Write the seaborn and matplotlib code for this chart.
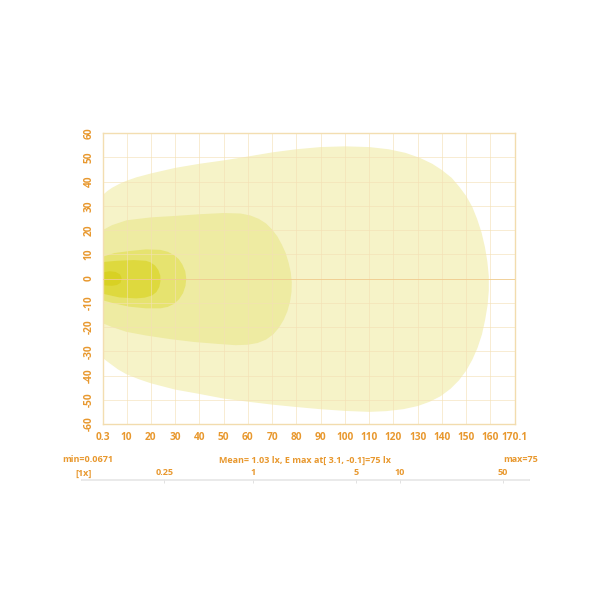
import matplotlib
matplotlib.use("Agg")
import matplotlib.pyplot as plt
import seaborn as sns

# isolux outlines (distance m, lateral m)
lux_levels = [0.25, 1, 5, 10, 50]
lux_colors = ["#f6f3c8", "#eeeba2", "#e6e36f", "#ded93e", "#d8d123"]

x_025 = [0.3, 2, 4, 7, 10, 14, 20, 30, 40, 50, 60, 70, 80, 90, 100, 110, 118, 125, 131, 136, 140,
         144, 147, 150, 152.5, 154.5, 156.3, 157.7, 158.7, 159.3, 159.3, 158.8, 157.8, 156.5, 154.7,
         152.5, 150, 147, 143.5, 139.5, 135, 130, 124, 117, 110, 100, 90, 80, 70, 60, 50, 40, 30,
         20, 15, 10, 6.5, 3.5, 1.5, 0.3]
y_025 = [34.5, 36, 37.4, 39, 40.3, 41.7, 43.3, 45.6, 47.3, 48.7, 50.3, 52, 53.3, 54.2, 54.5, 54.2,
         53.3, 51.8, 49.7, 47.3, 44.7, 41.5, 38, 34, 29.5, 24.5, 19, 13, 7, 1, -5, -11, -17, -23,
         -28.5, -33.5, -38, -42, -45.5, -48.5, -50.8, -52.6, -53.9, -54.7, -55, -54.6, -53.9,
         -53, -52, -50.8, -49.5, -47.6, -45.8, -43.2, -41.5, -39.5, -37.5, -35.3, -33.8, -32.8]

x_1 = [0.3, 4, 10, 20, 30, 40, 50, 57, 61, 64.5, 67.5, 70, 72.2, 74, 75.6, 76.8, 77.7, 78.1, 78,
       77.4, 76.3, 74.8, 72.8, 70.5, 67.5, 64, 60, 55, 48, 38, 28, 18, 10, 4, 0.3]
y_1 = [20, 22, 24, 25.2, 25.8, 26.5, 27, 26.8, 26, 24.6, 22.7, 20.2, 17.3, 14, 10.5, 6.5, 2.5, -1.5,
       -5.5, -9.5, -13.5, -17, -20.3, -23, -25.2, -26.6, -27.3, -27.5, -27, -26.2, -25, -23.5,
       -22, -20, -18.5]

x_5 = [0.3, 5, 11, 18, 24, 27, 29.5, 31.5, 33, 34.2, 34.6, 34.3, 33.3, 31.7, 29.5, 27, 24, 18, 11,
       5, 0.3]
y_5 = [9, 10.5, 11.3, 12, 11.8, 11, 9.7, 8, 5.8, 3, 0, -3, -6, -8.5, -10.5, -11.7, -12.3, -12.3,
       -11.6, -10.3, -9]

x_10 = [0.3, 6, 13, 18, 20, 21.8, 23.1, 23.9, 24, 23.5, 22.3, 20.5, 17.5, 14, 7, 0.3]
y_10 = [6.8, 7.3, 7.6, 7.3, 6.6, 5.3, 3.5, 1.2, -1, -3.5, -5.6, -7, -7.9, -8.2, -7.8, -6.3]

x_50 = [0.3, 3, 5.5, 7.3, 8, 7.5, 6, 4, 0.3]
y_50 = [2.5, 3, 2.7, 1.7, 0, -1.8, -2.7, -3, -2.8]

x_ticks = [0.3, 10, 20, 30, 40, 50, 60, 70, 80, 90, 100, 110, 120, 130, 140, 150, 160, 170.1]
y_ticks = [-60, -50, -40, -30, -20, -10, 0, 10, 20, 30, 40, 50, 60]
scale_ticks = [0.25, 1, 5, 10, 50]
scale_min, scale_max = 0.0671, 75

orange = "#e8982e"
grid_col = "#f4e0b4"

sns.set_style("white")
plt.rcParams["font.family"] = ["Open Sans", "DejaVu Sans"]

fig = plt.figure(figsize=(6, 6), dpi=100)
ax = fig.add_axes([103 / 600, 1 - 424 / 600, 412 / 600, 291 / 600])

outlines = [(x_025, y_025), (x_1, y_1), (x_5, y_5), (x_10, y_10), (x_50, y_50)]
for (xs, ys), col in zip(outlines, lux_colors):
    ax.fill(xs, ys, color=col, lw=0, zorder=1)

ax.set_xlim(0.3, 170.1)
ax.set_ylim(-60, 60)
ax.set_xticks(x_ticks)
ax.set_yticks(y_ticks)
ax.set_xticklabels([f"{t:g}" for t in x_ticks])
ax.set_yticklabels([str(t) for t in y_ticks], rotation=90, va="center")
ax.tick_params(length=0, pad=6, labelsize=7.3, labelcolor=orange)
for lab in ax.get_xticklabels() + ax.get_yticklabels():
    lab.set_fontweight("bold")

ax.grid(True, color=grid_col, lw=0.7, alpha=0.6, zorder=2)
ax.set_axisbelow(False)
ax.axhline(0, color="#efc684", lw=0.7, alpha=0.7, zorder=3)
for s in ax.spines.values():
    s.set_color("#f2dcae")
    s.set_linewidth(1.0)

# summary line under the chart
txt = dict(color=orange, fontsize=6.5, fontweight="bold", va="center")
fig.text(62 / 600, 1 - 460 / 600, "min=0.0671", ha="left", **txt)
fig.text(305 / 600, 1 - 460 / 600, "Mean= 1.03 lx, E max at[ 3.1, -0.1]=75 lx", ha="center", **txt)
fig.text(538 / 600, 1 - 460 / 600, "max=75", ha="right", **txt)
fig.text(84 / 600, 1 - 473 / 600, "[1x]", ha="center", **txt)

# log scale strip
sax = fig.add_axes([80.5 / 600, 1 - 480 / 600, 448 / 600, 1.5 / 600])
sax.set_xscale("log")
sax.set_xlim(scale_min, scale_max)
sax.set_yticks([])
sax.set_xticks(scale_ticks)
sax.set_xticks([], minor=True)
sax.set_xticklabels([f"{t:g}" for t in scale_ticks])
sax.xaxis.set_ticks_position("top")
sax.tick_params(axis="x", length=3, width=0.6, color="#dddddd", pad=1, labelsize=6.5,
                labelcolor=orange, direction="in")
for lab in sax.get_xticklabels():
    lab.set_fontweight("bold")
for s in sax.spines.values():
    s.set_color("#e6e6e6")
    s.set_linewidth(0.6)

fig.savefig("out.png", dpi=100)
